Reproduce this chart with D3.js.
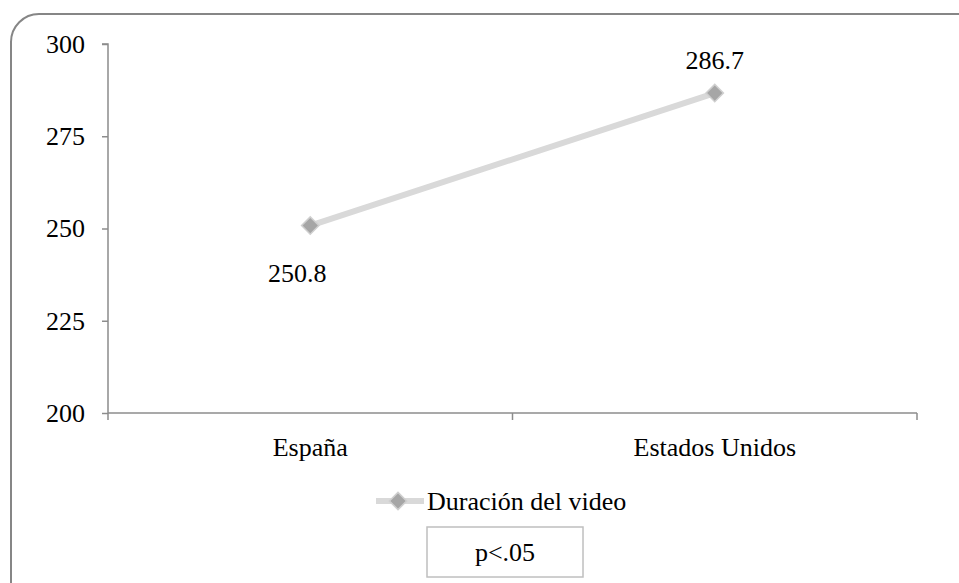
<!DOCTYPE html>
<html>
<head>
<meta charset="utf-8">
<script src="https://cdn.jsdelivr.net/npm/d3@7"></script>
<style>
  body { margin: 0; background: #fff; }
  svg { display: block; font-family: "Liberation Serif", "Times New Roman", serif; }
</style>
</head>
<body>
<div id="chart"></div>
<script>
const categories = ['España', 'Estados Unidos'];
const values = [250.8, 286.7];
const yTicks = [200, 225, 250, 275, 300];
const seriesName = 'Duración del video';
const note = 'p<.05';

const width = 959, height = 583;
const margin = { top: 44, right: 42, bottom: 170, left: 108 };

const svg = d3.select('#chart').append('svg')
    .attr('width', width)
    .attr('height', height);

// outer frame, partly cut off at right and bottom
svg.append('rect')
    .attr('x', 11).attr('y', 14)
    .attr('width', 990).attr('height', 620)
    .attr('rx', 28).attr('ry', 28)
    .attr('fill', 'none')
    .attr('stroke', '#868686')
    .attr('stroke-width', 2);

const chartArea = svg.append('g')
    .attr('transform', `translate(${margin.left},${margin.top})`);

const chartWidth = width - margin.left - margin.right;
const chartHeight = height - margin.top - margin.bottom;

const x = d3.scaleBand().domain(categories).range([0, chartWidth]);
const y = d3.scaleLinear().domain([200, 300]).range([chartHeight, 0]);

// y axis
const leftAxis = d3.axisLeft(y).tickValues(yTicks).tickSize(6).tickPadding(17);
const leftAxisG = chartArea.append('g').call(leftAxis);
leftAxisG.select('.domain').attr('d', `M-6,0H0V${chartHeight}`);

// x axis with ticks at band edges
chartArea.append('line')
    .attr('x1', 0).attr('x2', chartWidth)
    .attr('y1', chartHeight).attr('y2', chartHeight)
    .attr('class', 'axisline');
const edges = categories.map(c => x(c)).concat([chartWidth]);
chartArea.selectAll('line.xtick').data(edges)
    .join('line')
    .attr('class', 'xtick axisline')
    .attr('x1', d => d).attr('x2', d => d)
    .attr('y1', chartHeight).attr('y2', chartHeight + 7);

chartArea.selectAll('text.xlabel').data(categories)
    .join('text')
    .attr('class', 'xlabel')
    .attr('x', d => x(d) + x.bandwidth() / 2)
    .attr('y', chartHeight + 43)
    .attr('text-anchor', 'middle')
    .attr('font-size', '26px')
    .text(d => d);

svg.selectAll('.tick line, .domain, .axisline')
    .attr('stroke', '#8c8c8c')
    .attr('stroke-width', 1.5)
    .attr('fill', 'none');
leftAxisG.selectAll('.tick text')
    .attr('font-size', '26px')
    .attr('font-family', '"Liberation Serif", serif')
    .attr('fill', '#000');

const pts = categories.map((c, i) => ({ cat: c, val: values[i] }));

chartArea.append('path')
    .datum(pts)
    .attr('fill', 'none')
    .attr('stroke', '#d9d9d9')
    .attr('stroke-width', 6)
    .attr('d', d3.line().x(d => x(d.cat) + x.bandwidth() / 2).y(d => y(d.val)));

const marker = d3.symbol().type(d3.symbolSquare).size(150);
chartArea.selectAll('path.marker').data(pts)
    .join('path')
    .attr('class', 'marker')
    .attr('transform', d => `translate(${x(d.cat) + x.bandwidth() / 2},${y(d.val)}) rotate(45)`)
    .attr('d', marker)
    .attr('fill', '#a6a6a6')
    .attr('stroke', '#cfcfcf')
    .attr('stroke-width', 1.5);

// data labels: first below, second above
chartArea.selectAll('text.label').data(pts)
    .join('text')
    .attr('class', 'label')
    .attr('x', (d, i) => x(d.cat) + x.bandwidth() / 2 + (i === 0 ? -13 : 0))
    .attr('y', (d, i) => y(d.val) + (i === 0 ? 56 : -24))
    .attr('text-anchor', 'middle')
    .attr('font-size', '26px')
    .text(d => d.val.toFixed(1));

// legend
const legend = svg.append('g').attr('transform', 'translate(376,501)');
legend.append('line')
    .attr('x1', 0).attr('x2', 48)
    .attr('stroke', '#d9d9d9').attr('stroke-width', 6);
legend.append('path')
    .attr('transform', 'translate(22,0) rotate(45)')
    .attr('d', marker)
    .attr('fill', '#a6a6a6')
    .attr('stroke', '#cfcfcf')
    .attr('stroke-width', 1.5);
legend.append('text')
    .attr('x', 51).attr('y', 9)
    .attr('font-size', '26px')
    .text(seriesName);

// significance box
svg.append('rect')
    .attr('x', 427).attr('y', 527)
    .attr('width', 156).attr('height', 50)
    .attr('fill', '#fff')
    .attr('stroke', '#bfbfbf')
    .attr('stroke-width', 1.5);
svg.append('text')
    .attr('x', 505).attr('y', 561)
    .attr('text-anchor', 'middle')
    .attr('font-size', '26px')
    .text(note);
</script>
</body>
</html>
